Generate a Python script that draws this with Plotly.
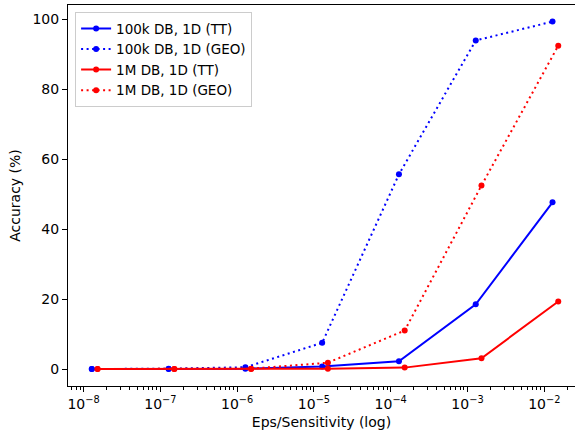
import plotly.graph_objects as go
import numpy as np

# Data
eps_100k = [1.28e-8, 1.28e-7, 1.28e-6, 1.28e-5, 1.28e-4, 1.28e-3, 1.28e-2]
eps_1m = [1.52e-8, 1.52e-7, 1.52e-6, 1.52e-5, 1.52e-4, 1.52e-3, 1.52e-2]
acc_100k_tt = [0.0, 0.0, 0.1, 0.7, 2.2, 18.5, 47.7]
acc_100k_geo = [0.0, 0.1, 0.5, 7.5, 55.7, 94.0, 99.4]
acc_1m_tt = [0.0, 0.0, 0.0, 0.1, 0.4, 3.1, 19.3]
acc_1m_geo = [0.0, 0.0, 0.1, 1.8, 11.0, 52.5, 92.5]

x_tickvals = [1e-8, 1e-7, 1e-6, 1e-5, 1e-4, 1e-3, 1e-2]
x_ticktext = ["10<sup>−8</sup>", "10<sup>−7</sup>", "10<sup>−6</sup>", "10<sup>−5</sup>",
              "10<sup>−4</sup>", "10<sup>−3</sup>", "10<sup>−2</sup>"]
y_tickvals = [0, 20, 40, 60, 80, 100]

minor_vals = [m * 10.0 ** e for e in range(-9, -1) for m in range(2, 10)]

FONT = "DejaVu Sans"
FS = 14
fig = go.Figure()

series = [
    ("100k DB, 1D (TT)", eps_100k, acc_100k_tt, "#0000ff", "solid"),
    ("100k DB, 1D (GEO)", eps_100k, acc_100k_geo, "#0000ff", "2px,3.5px"),
    ("1M DB, 1D (TT)", eps_1m, acc_1m_tt, "#ff0000", "solid"),
    ("1M DB, 1D (GEO)", eps_1m, acc_1m_geo, "#ff0000", "2px,3.5px"),
]
for name, xs, ys, col, dash in series:
    fig.add_trace(go.Scatter(
        x=xs, y=ys, name=name, mode="lines+markers",
        line=dict(color=col, width=2, dash=dash),
        marker=dict(color=col, size=6),
    ))

fig.update_layout(
    width=575, height=442,
    margin=dict(l=68, r=0, t=5, b=56),
    plot_bgcolor="white", paper_bgcolor="white",
    font=dict(family=FONT, size=FS, color="black"),
    showlegend=True,
    legend=dict(
        x=0.014, y=0.981, xanchor="left", yanchor="top",
        bgcolor="rgba(255,255,255,0.8)", bordercolor="#cccccc", borderwidth=1,
        font=dict(family=FONT, size=13.5),
        tracegroupgap=0, itemwidth=30,
    ),
    xaxis=dict(
        type="log", range=[-8.203, -1.600],
        tickvals=x_tickvals, ticktext=x_ticktext,
        ticks="outside", ticklen=5, tickwidth=1, tickcolor="black",
        showline=True, linecolor="black", linewidth=1, mirror=True,
        showgrid=False, zeroline=False,
        tickfont=dict(family=FONT, size=FS),
        title=dict(text="Eps/Sensitivity (log)", font=dict(family=FONT, size=FS), standoff=6),
        minor=dict(tickvals=minor_vals, ticks="outside", ticklen=3, tickwidth=0.8,
                   tickcolor="black", showgrid=False),
    ),
    yaxis=dict(
        range=[-4.86, 104.15],
        tickvals=y_tickvals,
        ticks="outside", ticklen=5, tickwidth=1, tickcolor="black",
        showline=True, linecolor="black", linewidth=1, mirror=False,
        showgrid=False, zeroline=False,
        tickfont=dict(family=FONT, size=FS),
        title=dict(text="Accuracy (%)", font=dict(family=FONT, size=FS), standoff=8),
    ),
)

fig.write_html("out.html")
